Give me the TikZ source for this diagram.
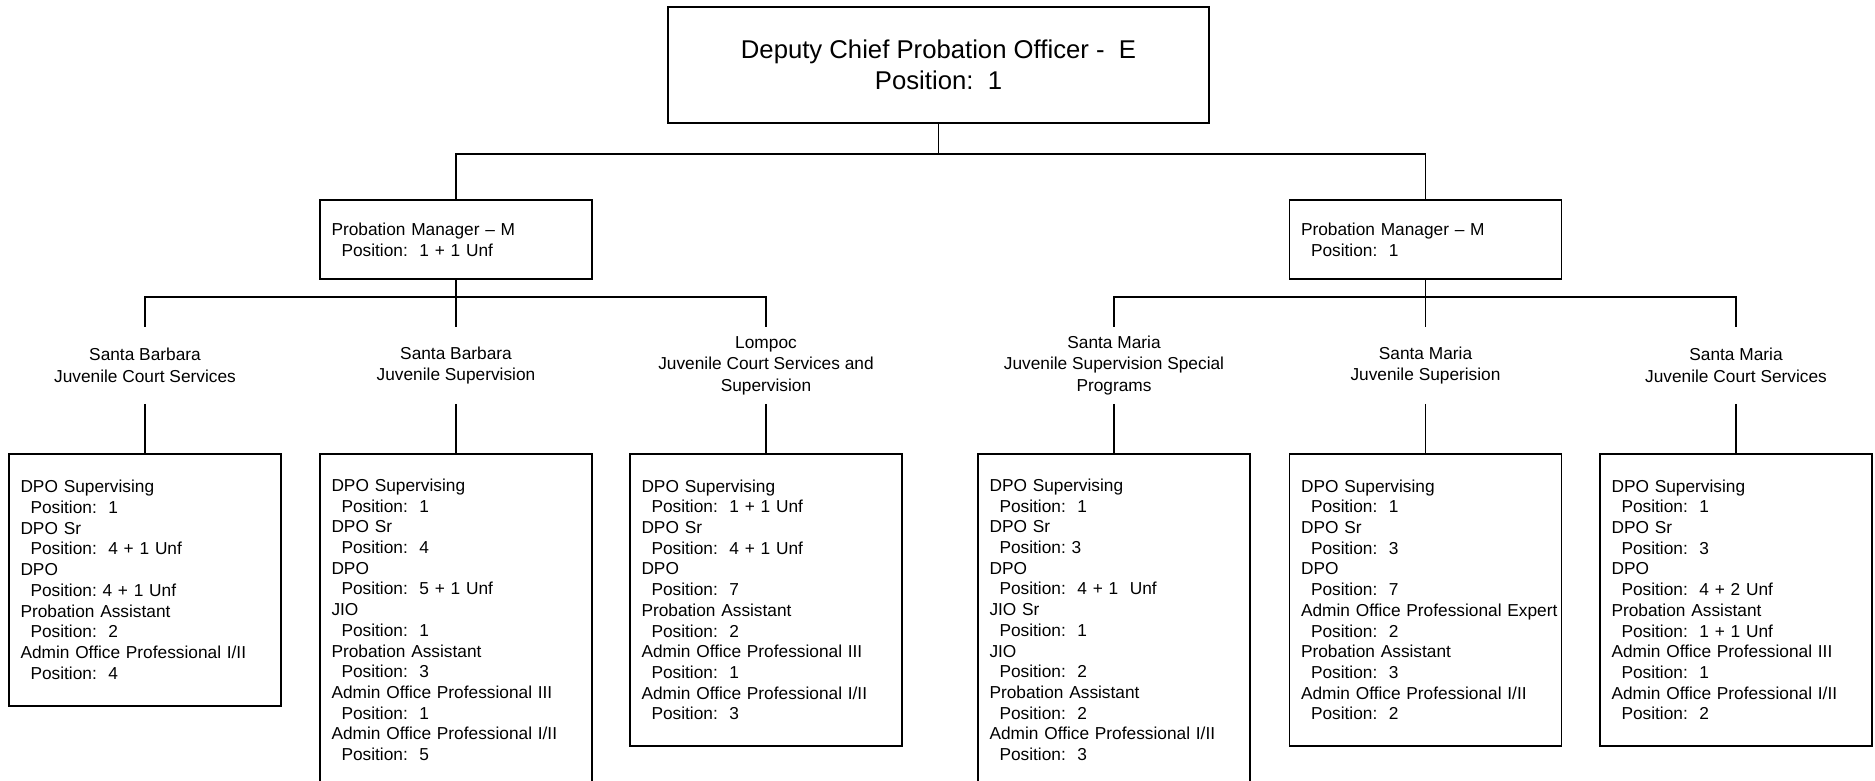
\documentclass[tikz,border=0pt]{standalone}
\usepackage{fontspec}
\setmainfont{Liberation Sans}
\frenchspacing

\newcommand{\pn}[1]{\hspace*{10pt}Position: #1}

\tikzset{
    box/.style={draw, rectangle, inner sep=0pt},
    chief/.style={box, minimum width=541pt, minimum height=116pt, align=center, font=\fontsize{25.7}{31}\selectfont},
    mgr/.style={box, minimum height=79pt, inner xsep=11.5pt, text width=249pt, align=left, font=\fontsize{17.3}{20.7}\selectfont},
    unit/.style={minimum height=75pt, inner sep=0pt, align=center, font=\fontsize{17.3}{21.5}\selectfont},
    staff/.style={box, anchor=north, inner xsep=11.5pt, text width=249pt, align=left, font=\fontsize{17.3}{20.7}\selectfont}
}

\begin{document}
\begin{tikzpicture}[x=1pt, y=-1pt, line width=1.6pt]
        \useasboundingbox (0,0) rectangle (1875,781);

        \node[chief] (e) at (938.5,65) {Deputy Chief Probation Officer - \ E\\Position:\ \ 1};

        \node[mgr] (m1) at (456,239.5) {Probation Manager – M\\\pn{\ 1 + 1 Unf}};
        \node[mgr] (m2) at (1425.5,239.5) {Probation Manager – M\\\pn{\ 1}};

        \node[unit] (u1) at (145,365.5) {Santa Barbara\\Juvenile Court Services};
        \node[unit] (u2) at (456,365.5) {Santa Barbara\\Juvenile Supervision};
        \node[unit] (u3) at (766,365.5) {Lompoc\\Juvenile Court Services and\\Supervision};
        \node[unit] (u4) at (1114,365.5) {Santa Maria\\Juvenile Supervision Special\\Programs};
        \node[unit] (u5) at (1425.5,365.5) {Santa Maria\\Juvenile Superision};
        \node[unit] (u6) at (1736,365.5) {Santa Maria\\Juvenile Court Services};

        \node[staff, minimum height=252pt] (b1) at (145,453) {DPO Supervising\\\pn{\ 1}\\DPO Sr\\\pn{\ 4 + 1 Unf}\\DPO\\\pn{4 + 1 Unf}\\Probation Assistant\\\pn{\ 2}\\Admin Office Professional I/II\\\pn{\ 4}};
        \node[staff, minimum height=332pt] (b2) at (456,453) {DPO Supervising\\\pn{\ 1}\\DPO Sr\\\pn{\ 4}\\DPO\\\pn{\ 5 + 1 Unf}\\JIO\\\pn{\ 1}\\Probation Assistant\\\pn{\ 3}\\Admin Office Professional III\\\pn{\ 1}\\Admin Office Professional I/II\\\pn{\ 5}};
        \node[staff, minimum height=292pt] (b3) at (766,453) {DPO Supervising\\\pn{\ 1 + 1 Unf}\\DPO Sr\\\pn{\ 4 + 1 Unf}\\DPO\\\pn{\ 7}\\Probation Assistant\\\pn{\ 2}\\Admin Office Professional III\\\pn{\ 1}\\Admin Office Professional I/II\\\pn{\ 3}};
        \node[staff, minimum height=332pt] (b4) at (1114,453) {DPO Supervising\\\pn{\ 1}\\DPO Sr\\\pn{3}\\DPO\\\pn{\ 4 + 1\ \ Unf}\\JIO Sr\\\pn{\ 1}\\JIO\\\pn{\ 2}\\Probation Assistant\\\pn{\ 2}\\Admin Office Professional I/II\\\pn{\ 3}};
        \node[staff, minimum height=292pt] (b5) at (1425.5,453) {DPO Supervising\\\pn{\ 1}\\DPO Sr\\\pn{\ 3}\\DPO\\\pn{\ 7}\\\mbox{Admin Office Professional Expert}\\\pn{\ 2}\\Probation Assistant\\\pn{\ 3}\\Admin Office Professional I/II\\\pn{\ 2}};
        \node[staff, minimum height=292pt] (b6) at (1736,453) {DPO Supervising\\\pn{\ 1}\\DPO Sr\\\pn{\ 3}\\DPO\\\pn{\ 4 + 2 Unf}\\Probation Assistant\\\pn{\ 1 + 1 Unf}\\Admin Office Professional III\\\pn{\ 1}\\Admin Office Professional I/II\\\pn{\ 2}};

        \draw (e.south) -- ++(0,30) -| (m1.north);
        \draw (e.south) -- ++(0,30) -| (m2.north);
        \foreach \i in {1,2,3}
            \draw (m1.south) -- ++(0,17) -| (u\i.north);
        \foreach \i in {4,5,6}
            \draw (m2.south) -- ++(0,17) -| (u\i.north);
        \foreach \i in {1,...,6}
            \draw (u\i.south) -- (b\i.north);
    \end{tikzpicture}
\end{document}
